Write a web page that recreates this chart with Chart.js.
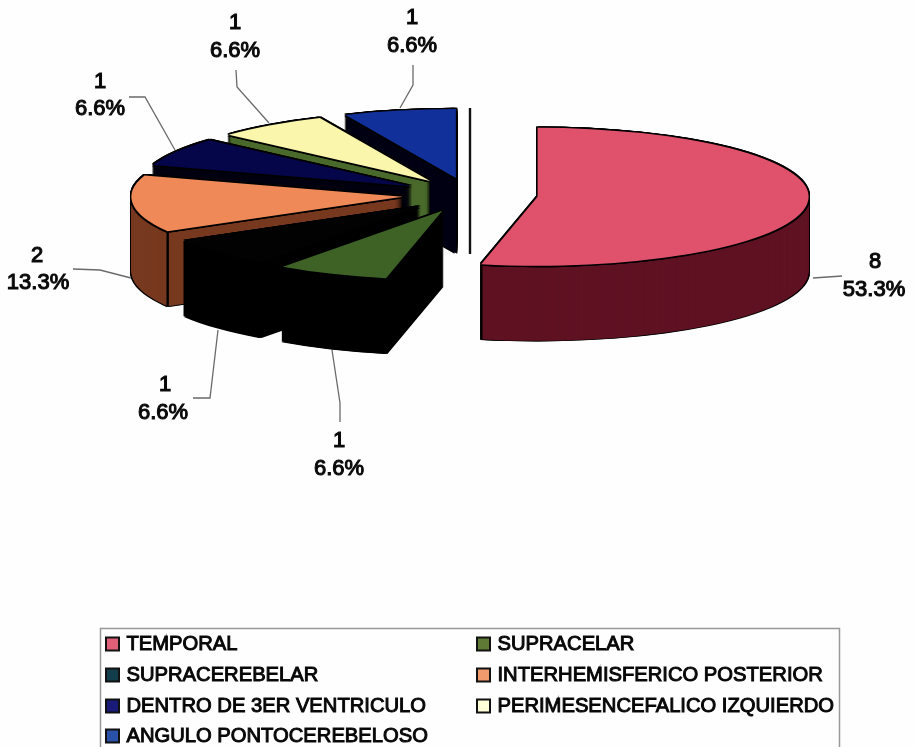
<!DOCTYPE html>
<html>
<head>
<meta charset="utf-8">
<script src="https://cdn.jsdelivr.net/npm/chart.js@4"></script>
<style>
html,body{margin:0;padding:0;background:#fefefe;overflow:hidden}
canvas{display:block;filter:blur(0.65px)}
</style>
</head>
<body>
<canvas id="c" width="915" height="747"></canvas>
<script>
const categories = ["TEMPORAL","SUPRACELAR","SUPRACEREBELAR","INTERHEMISFERICO POSTERIOR","DENTRO DE 3ER VENTRICULO","PERIMESENCEFALICO IZQUIERDO","ANGULO PONTOCEREBELOSO"];
const counts = [8,1,1,2,1,1,1];
const percents = ["53.3%","6.6%","6.6%","13.3%","6.6%","6.6%","6.6%"];

const topColors = ["#E0526C","#3E6226","#010201","#EF8A58","#05054A","#FAF6AC","#11309A"];
const wallColors = ["#5F1222","#000000","#000000","#77391F","#000010","#4A6A2C","#000014"];
const legendColors = ["#E0607A","#5E7A34","#123D4A","#F09A6E","#1A1A78","#FFFFD8","#2A50A8"];

const labelPos = [[875,262,874,290],[339,441,339,469],[165,385,163,413],[37,256,38,283],[100,82,100,109],[235,23,235,51],[412,18,412,46]];
const leaders = [
  [[813,278],[842,276]],
  [[332,350],[340,403],[340,422]],
  [[218,330],[210,398],[193,398]],
  [[131,278],[100,270],[73,269]],
  [[175,150],[145,97],[129,97]],
  [[269,123],[237,87],[236,70]],
  [[400,108],[413,85],[413,65]]
];
const paintOrder = [6,5,4,3,2,1,0];
const SQUASH = 69/271, EXPLODE = 68, DEPTH = 75, OUT = 1.4;

const pie3d = {
  id:'pie3d',
  beforeDatasetsDraw(chart){
    const ctx = chart.ctx, arcs = chart.getDatasetMeta(0).data;
    const shift = arc=>{
      const h = (arc.startAngle+arc.endAngle)/2;
      return [arc.x+Math.cos(h)*EXPLODE, arc.y+Math.sin(h)*EXPLODE*SQUASH];
    };
    const paint = (arc,dx,dy,color)=>{
      const [sx,sy] = shift(arc);
      const base = arc.options;
      ctx.save();
      ctx.translate(sx+dx,sy+dy);
      ctx.scale(1,SQUASH);
      ctx.translate(-arc.x,-arc.y);
      arc.options = Object.assign({},base,{backgroundColor:color,borderWidth:0,offset:0});
      arc.draw(ctx);
      arc.options = base;
      ctx.restore();
    };
    ctx.save();
    ctx.strokeStyle='#111'; ctx.lineWidth=2.4;
    ctx.beginPath(); ctx.moveTo(arcs[0].x,108); ctx.lineTo(arcs[0].x,254); ctx.stroke();
    ctx.restore();
    for(const i of paintOrder){
      const arc = arcs[i];
      for(let d=-OUT;d<=DEPTH+OUT;d+=1){
        paint(arc,-OUT,d,'#000'); paint(arc,OUT,d,'#000');
      }
      for(let d=DEPTH;d>=0;d-=1) paint(arc,0,d,wallColors[i]);
      const [sx,sy] = shift(arc), r = arc.outerRadius;
      ctx.save();
      ctx.strokeStyle='#000'; ctx.lineWidth=2.4;
      for(const a of [arc.startAngle,arc.endAngle]){
        if(Math.sin(a)>0.01){
          const cx=sx+Math.cos(a)*r, cy=sy+Math.sin(a)*r*SQUASH;
          ctx.beginPath(); ctx.moveTo(cx,cy); ctx.lineTo(cx,cy+DEPTH); ctx.stroke();
        }
      }
      ctx.restore();
      for(const [a,b] of [[-1,-1],[0,-1],[1,-1],[-1,0],[1,0],[-1,1],[0,1],[1,1]]) paint(arc,a*OUT,b*OUT,'#000');
      paint(arc,0,0,topColors[i]);
    }
    return false;
  },
  afterDraw(chart){
    const ctx = chart.ctx;
    ctx.save();
    ctx.strokeStyle='#6a6a6a'; ctx.lineWidth=1.3;
    leaders.forEach(l=>{
      ctx.beginPath();
      l.forEach((p,j)=> j?ctx.lineTo(p[0],p[1]):ctx.moveTo(p[0],p[1]));
      ctx.stroke();
    });
    ctx.font='22px "Liberation Sans"';
    ctx.textAlign='center'; ctx.textBaseline='middle';
    ctx.fillStyle='#0a0a0a'; ctx.strokeStyle='#0a0a0a'; ctx.lineWidth=1.1;
    labelPos.forEach((p,i)=>{
      for(const [t,x,y] of [[String(counts[i]),p[0],p[1]],[percents[i],p[2],p[3]]]){
        ctx.fillText(t,x,y); ctx.strokeText(t,x,y);
      }
    });
    ctx.strokeStyle='#999'; ctx.lineWidth=1.5;
    ctx.strokeRect(100.5,628.5,739,130);
    ctx.font='20.2px "Liberation Sans"';
    ctx.textAlign='left';
    const rows=[644,675,706,736], cols=[106,477];
    categories.forEach((name,i)=>{
      const x=cols[i%2], y=rows[Math.floor(i/2)];
      ctx.fillStyle=legendColors[i]; ctx.strokeStyle='#111'; ctx.lineWidth=2;
      ctx.fillRect(x,y-6.5,13,13); ctx.strokeRect(x,y-6.5,13,13);
      ctx.fillStyle='#080808'; ctx.strokeStyle='#080808'; ctx.lineWidth=1;
      ctx.fillText(name,x+20.5,y+0.5); ctx.strokeText(name,x+20.5,y+0.5);
    });
    ctx.restore();
  }
};

new Chart(document.getElementById('c'),{
  type:'pie',
  data:{labels:categories,datasets:[{data:counts,backgroundColor:topColors,borderWidth:0}]},
  options:{
    responsive:false,animation:false,radius:271,
    layout:{padding:{left:25,right:0,top:0,bottom:357}},
    plugins:{legend:{display:false},tooltip:{enabled:false}},
    events:[]
  },
  plugins:[pie3d]
});
</script>
</body>
</html>
